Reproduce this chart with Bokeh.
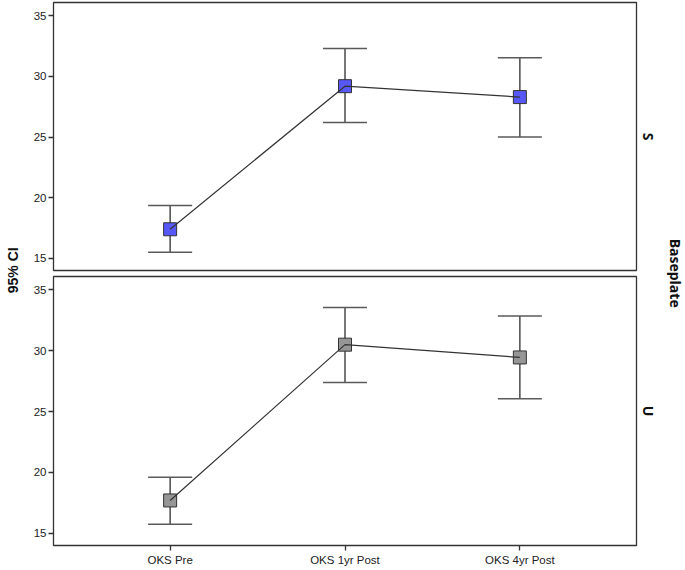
import math
from bokeh.plotting import figure
from bokeh.models import (ColumnDataSource, Whisker, TeeHead, Range1d, FixedTicker,
                          Label, Title)
from bokeh.layouts import row, column
from bokeh.embed import file_html
from bokeh.resources import INLINE

# ---- data ----
timepoints = ["OKS Pre", "OKS 1yr Post", "OKS 4yr Post"]
positions = [1, 2, 3]
y_ticks = [15, 20, 25, 30, 35]

s_mean = [17.4, 29.2, 28.3]
s_lower = [15.5, 26.2, 25.0]
s_upper = [19.35, 32.3, 31.55]

u_mean = [17.7, 30.5, 29.45]
u_lower = [15.75, 27.4, 26.05]
u_upper = [19.6, 33.55, 32.85]

panels = [("S", s_mean, s_lower, s_upper, "#5858f8"),
          ("U", u_mean, u_lower, u_upper, "#969696")]

TICK_FONT = "Liberation Sans"


def make_panel(name, mean, lower, upper, color, bottom):
    if bottom:
        b_top, frame_h, b_bot = 3, 270, 22
    else:
        b_top, frame_h, b_bot = 2, 268, 3
    p = figure(width=634, height=b_top + frame_h + b_bot, output_backend="svg",
               toolbar_location=None,
               x_range=Range1d(0.333, 3.667), y_range=Range1d(14.0, 36.1),
               min_border_left=25, min_border_right=23,
               min_border_top=b_top, min_border_bottom=b_bot,
               x_axis_location="below" if bottom else None)
    p.outline_line_color = "#333333"
    p.outline_line_width = 1.3
    p.xgrid.visible = False
    p.ygrid.visible = False
    p.background_fill_color = "white"
    p.border_fill_color = "white"

    src = ColumnDataSource(dict(x=positions, mean=mean, lower=lower, upper=upper))
    w = Whisker(source=src, base="x", upper="upper", lower="lower", dimension="height",
                line_color="#4a4a4a", line_width=1.5, level="underlay",
                upper_head=TeeHead(size=44, line_color="#5a5a5a", line_width=1.5),
                lower_head=TeeHead(size=44, line_color="#5a5a5a", line_width=1.5))
    p.add_layout(w)
    p.scatter("x", "mean", source=src, marker="square", size=13,
              fill_color=color, line_color="#333333", line_width=1)
    p.line("x", "mean", source=src, line_color="#333333", line_width=1.2)

    ya = p.yaxis[0]
    ya.ticker = FixedTicker(ticks=y_ticks)
    ya.axis_line_color = None
    ya.major_tick_out = 5
    ya.major_tick_in = 0
    ya.minor_tick_line_color = None
    ya.major_tick_line_color = "#333333"
    ya.major_tick_line_width = 1.3
    ya.major_label_standoff = 2
    ya.major_label_text_font = TICK_FONT
    ya.major_label_text_font_size = "11.5px"
    ya.major_label_text_color = "#222222"

    if bottom:
        xa = p.xaxis[0]
        xa.ticker = FixedTicker(ticks=positions)
        xa.major_label_overrides = {pos: lab for pos, lab in zip(positions, timepoints)}
        xa.axis_line_color = None
        xa.major_tick_out = 5
        xa.major_tick_in = 0
        xa.minor_tick_line_color = None
        xa.major_tick_line_color = "#333333"
        xa.major_tick_line_width = 1.3
        xa.major_label_standoff = 3
        xa.major_label_text_font = TICK_FONT
        xa.major_label_text_font_size = "11.5px"
        xa.major_label_text_color = "#222222"

    t = Title(text=name, align="center", text_font="Open Sans", text_font_style="bold",
              text_font_size="14px", text_color="#111111", standoff=5)
    p.add_layout(t, "right")
    return p


figs = [make_panel(n, m, lo, up, c, i == 1) for i, (n, m, lo, up, c) in enumerate(panels)]
total_h = sum(f.height for f in figs)


def side_fig(width, text, angle, font, x, y):
    f = figure(width=width, height=total_h, output_backend="svg", toolbar_location=None,
               x_range=Range1d(0, 1), y_range=Range1d(0, 1), min_border=0)
    f.axis.visible = False
    f.xgrid.visible = False
    f.ygrid.visible = False
    f.outline_line_color = None
    f.add_layout(Label(x=x, y=y, text=text, angle=angle, text_align="center",
                       text_baseline="middle", text_font=font, text_font_style="bold",
                       text_font_size="14px", text_color="#111111"))
    return f


left = side_fig(28, "95% CI", math.pi / 2, "Liberation Sans", 0.43, 0.525)
right = side_fig(23, "Baseplate", -math.pi / 2, "Open Sans", 0.55, 0.52)

layout = row(left, column(*figs), right)
open("out.html", "w").write(file_html(layout, INLINE))
